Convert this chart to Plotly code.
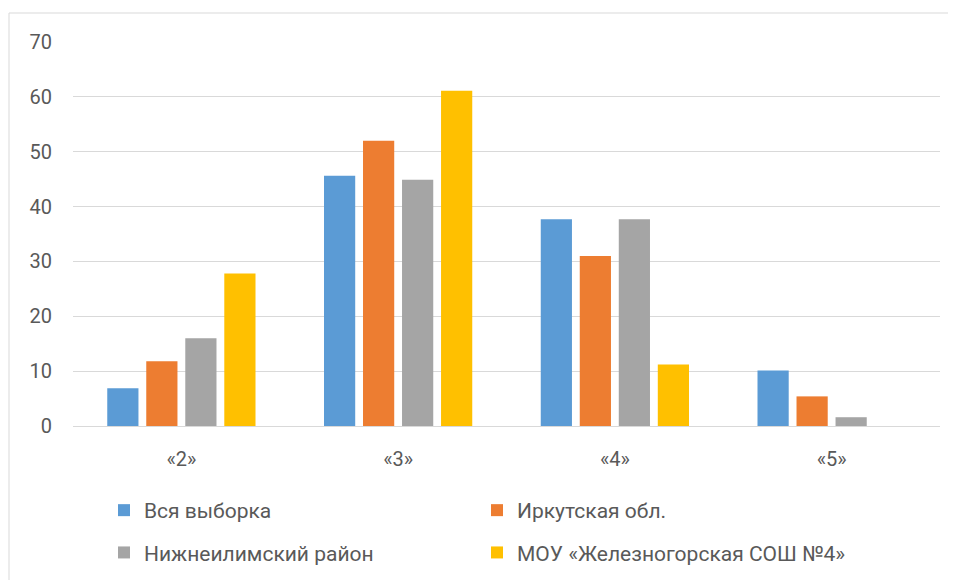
import plotly.graph_objects as go

categories = ["«2»", "«3»", "«4»", "«5»"]
series_names = ["Вся выборка", "Иркутская обл.", "Нижнеилимский район", "МОУ «Железногорская СОШ №4»"]
vsya = [6.9, 45.6, 37.7, 10.1]
irk = [11.8, 52.0, 31.0, 5.4]
nizh = [16.0, 44.9, 37.7, 1.6]
mou = [27.8, 61.1, 11.2, 0.0]
y_ticks = [0, 10, 20, 30, 40, 50, 60, 70]

colors = ["#5B9BD5", "#ED7D31", "#A5A5A5", "#FFC000"]
values = [vsya, irk, nizh, mou]
legends = ["legend", "legend2", "legend", "legend2"]

FONT = "Roboto"
TXT = "#595959"

fig = go.Figure()
for i, (name, vals) in enumerate(zip(series_names, values)):
    fig.add_trace(go.Bar(
        x=categories, y=vals, name=name,
        marker=dict(color=colors[i], line=dict(width=0)),
        legend=legends[i], legendgroup=f"g{i}",
    ))

# page body has an 8px margin, so figure coords = reference coords - 8
W, H = 948, 572
L, R, T, B = 65, 16, 34, 154
pw, ph = W - L - R, H - T - B

def px_x(x):
    return (x - L) / pw

def px_y(y):
    return (H - B - y) / ph

fig.update_layout(
    width=W, height=H,
    margin=dict(l=L, r=R, t=T, b=B, autoexpand=False),
    paper_bgcolor="white", plot_bgcolor="white",
    font=dict(family=FONT, size=20, color=TXT),
    barmode="group", bargap=0.28, bargroupgap=0.2,
    showlegend=True,
    legend=dict(x=px_x(96), y=px_y(482), xanchor="left", yanchor="top",
                orientation="v", tracegroupgap=12, font=dict(size=21, color=TXT),
                bgcolor="rgba(0,0,0,0)", itemclick=False),
    legend2=dict(x=px_x(469), y=px_y(482), xanchor="left", yanchor="top",
                 orientation="v", tracegroupgap=12, font=dict(size=21, color=TXT),
                 bgcolor="rgba(0,0,0,0)", itemclick=False),
    xaxis=dict(showgrid=False, showline=True, linecolor="#D9D9D9", linewidth=1,
               ticks="", tickfont=dict(size=20, color=TXT), ticklabelstandoff=15),
    yaxis=dict(range=[0, 70], tickvals=y_ticks, showgrid=True, gridcolor="#D9D9D9",
               gridwidth=1, zeroline=False, showline=False, ticks="",
               tickfont=dict(size=20, color=TXT), ticklabelstandoff=20),
    shapes=[dict(type="rect", xref="paper", yref="paper",
                 x0=px_x(1), x1=px_x(980), y0=px_y(5), y1=px_y(620),
                 line=dict(color="#D9D9D9", width=1), fillcolor="rgba(0,0,0,0)",
                 layer="below")],
)

fig.write_html("out.html")
